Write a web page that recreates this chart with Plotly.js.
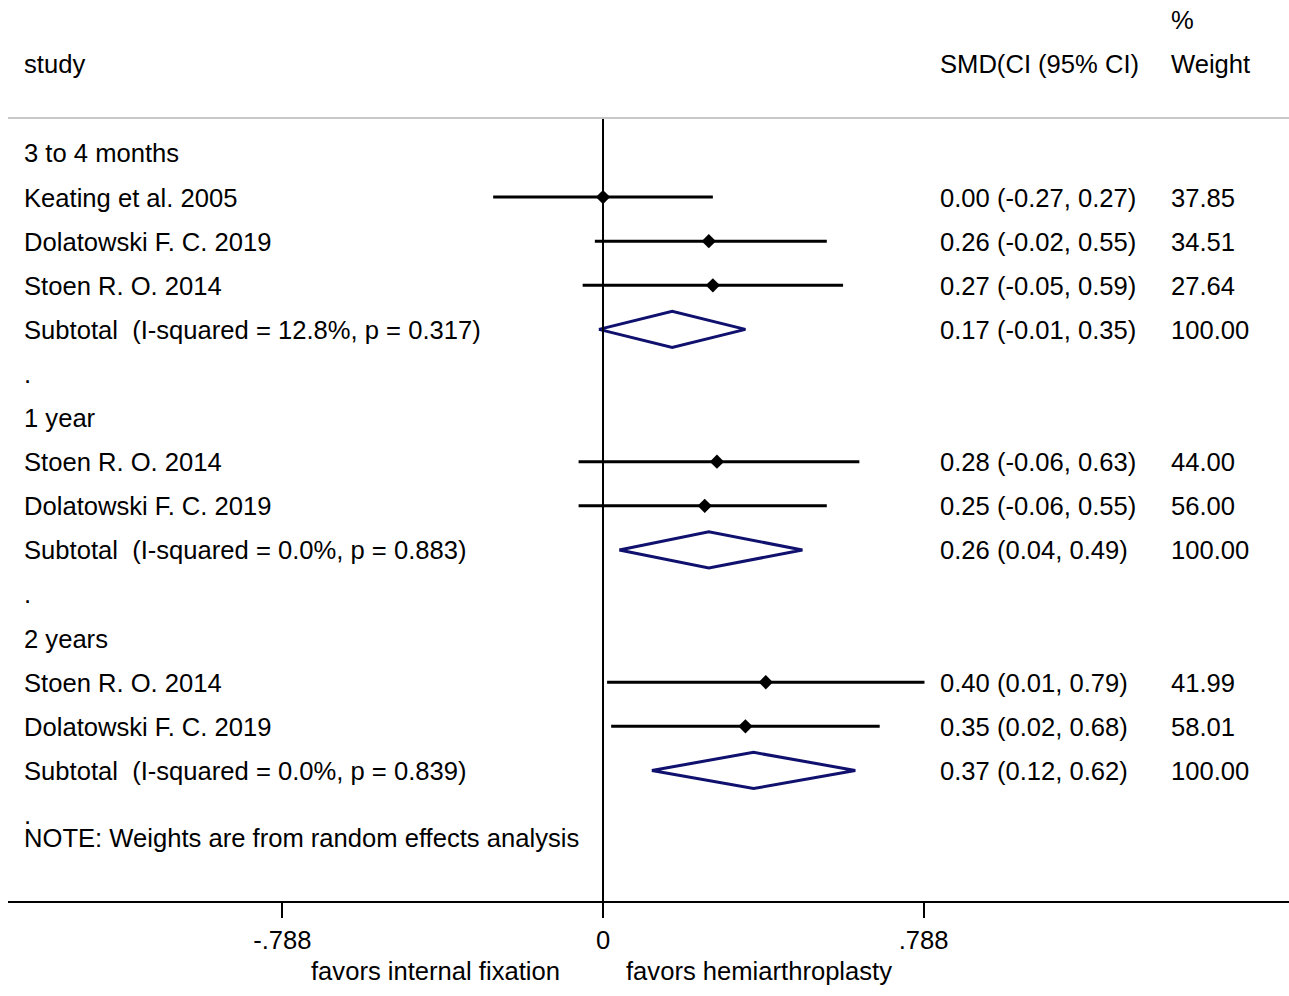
<!DOCTYPE html>
<html>
<head>
<meta charset="utf-8">
<script src="https://cdn.plot.ly/plotly-3.0.1.min.js"></script>
<style>html,body{margin:0;padding:0;background:#fff;}#chart{width:1289px;height:996px;}</style>
</head>
<body>
<div id="chart"></div>
<script>
// ---- data ----
const groupNames = ["3 to 4 months", "1 year", "2 years"];
const studyNames = ["Keating et al. 2005", "Dolatowski F. C. 2019", "Stoen R. O. 2014",
                    "Stoen R. O. 2014", "Dolatowski F. C. 2019",
                    "Stoen R. O. 2014", "Dolatowski F. C. 2019"];
const studyGroup = [0, 0, 0, 1, 1, 2, 2];
const studySMD = [0.00, 0.26, 0.27, 0.28, 0.25, 0.40, 0.35];
const studyLow = [-0.27, -0.02, -0.05, -0.06, -0.06, 0.01, 0.02];
const studyHigh = [0.27, 0.55, 0.59, 0.63, 0.55, 0.79, 0.68];
const studyWeight = [37.85, 34.51, 27.64, 44.00, 56.00, 41.99, 58.01];
const subtotalSMD = [0.17, 0.26, 0.37];
const subtotalLow = [-0.01, 0.04, 0.12];
const subtotalHigh = [0.35, 0.49, 0.62];
const subtotalI2 = ["12.8%", "0.0%", "0.0%"];
const subtotalP = ["0.317", "0.883", "0.839"];
const tickVals = [-0.788, 0, 0.788];
const tickText = ["-.788", "0", ".788"];

// ---- layout constants ----
const FONT = "Liberation Sans, Arial, sans-serif";
const FS = 25.6;
const xLeftCol = (22 - 8) / 1281;
const xSmdCol = (938 - 8) / 1281;
const xWtCol = (1169 - 8) / 1281;
const dHalf = 0.41;
const yNudge = 0.01;

const ann = [];
function txt(x, y, s, extra) {
  ann.push(Object.assign({xref: "paper", yref: "y", x: x, y: y + yNudge, text: s, showarrow: false,
    xanchor: "left", yanchor: "middle", font: {family: FONT, size: FS, color: "#000"}}, extra || {}));
}
const f2 = v => v.toFixed(2);

const ciX = [], ciY = [], mX = [], mY = [], dX = [], dY = [];
let row = 0;
groupNames.forEach((g, gi) => {
  txt(xLeftCol, row, g); row++;
  studyNames.forEach((n, i) => {
    if (studyGroup[i] !== gi) return;
    txt(xLeftCol, row, n);
    txt(xSmdCol, row, f2(studySMD[i]) + " (" + f2(studyLow[i]) + ", " + f2(studyHigh[i]) + ")");
    txt(xWtCol, row, f2(studyWeight[i]));
    ciX.push(studyLow[i], studyHigh[i], null); ciY.push(row, row, null);
    mX.push(studySMD[i]); mY.push(row);
    row++;
  });
  txt(xLeftCol, row, "Subtotal \u00a0(I-squared = " + subtotalI2[gi] + ", p = " + subtotalP[gi] + ")");
  txt(xSmdCol, row, f2(subtotalSMD[gi]) + " (" + f2(subtotalLow[gi]) + ", " + f2(subtotalHigh[gi]) + ")");
  txt(xWtCol, row, "100.00");
  dX.push(subtotalLow[gi], subtotalSMD[gi], subtotalHigh[gi], subtotalSMD[gi], subtotalLow[gi], null);
  dY.push(row, row - dHalf, row, row + dHalf, row, null);
  row++;
  txt(xLeftCol, row, "."); row++;
});
txt(xLeftCol, row - 1 + 0.52, "NOTE: Weights are from random effects analysis");

// headers
txt(xLeftCol, -2.02, "study");
txt(xSmdCol, -2.02, "SMD(CI (95% CI)");
txt(xWtCol, -2.02, "Weight");
txt(xWtCol, -3.02, "%");

// favours labels
ann.push({xref: "paper", yref: "paper", x: (562 - 8) / 1281, y: -70 / 901, text: "favors internal fixation",
  showarrow: false, xanchor: "right", yanchor: "middle", font: {family: FONT, size: FS, color: "#000"}});
ann.push({xref: "paper", yref: "paper", x: (624 - 8) / 1281, y: -70 / 901, text: "favors hemiarthroplasty",
  showarrow: false, xanchor: "left", yanchor: "middle", font: {family: FONT, size: FS, color: "#000"}});

const traces = [
  {type: "scatter", mode: "lines", x: ciX, y: ciY, line: {color: "#000", width: 3}, hoverinfo: "skip", cliponaxis: false},
  {type: "scatter", mode: "markers", x: mX, y: mY, marker: {symbol: "diamond", size: 11, color: "#000"}, cliponaxis: false},
  {type: "scatter", mode: "lines", x: dX, y: dY, line: {color: "#10106e", width: 3}, hoverinfo: "skip", cliponaxis: false}
];

const yTop = -3.469, yBot = 16.96, yHead = -0.794;
const layout = {
  width: 1289, height: 996,
  margin: {l: 8, r: 0, t: 0, b: 95},
  paper_bgcolor: "#fff", plot_bgcolor: "#fff",
  showlegend: false,
  font: {family: FONT, size: FS, color: "#000"},
  xaxis: {range: [-1.4623, 1.6859], showgrid: false, zeroline: false, showline: true, linecolor: "#000", linewidth: 2,
    ticks: "outside", ticklen: 15, tickwidth: 2, tickcolor: "#000", tickvals: tickVals, ticktext: tickText,
    tickfont: {family: FONT, size: FS, color: "#000"}, fixedrange: true},
  yaxis: {range: [yBot, yTop], visible: false, showgrid: false, zeroline: false, fixedrange: true},
  shapes: [
    {type: "line", xref: "x", yref: "y", x0: 0, x1: 0, y0: yHead, y1: yBot, line: {color: "#000", width: 2}},
    {type: "line", xref: "paper", yref: "y", x0: 0, x1: 1, y0: yHead, y1: yHead, line: {color: "#c8c8c8", width: 2}}
  ],
  annotations: ann
};
Plotly.newPlot("chart", traces, layout, {displayModeBar: false, staticPlot: true});
</script>
</body>
</html>
